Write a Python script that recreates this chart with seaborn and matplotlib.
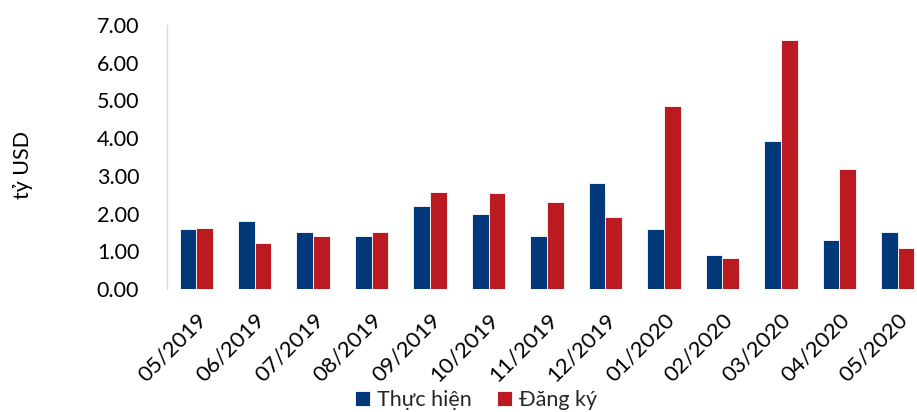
import matplotlib
matplotlib.use("Agg")
import matplotlib.pyplot as plt
import seaborn as sns
import pandas as pd

months = ["05/2019", "06/2019", "07/2019", "08/2019", "09/2019", "10/2019",
          "11/2019", "12/2019", "01/2020", "02/2020", "03/2020", "04/2020", "05/2020"]
thuc_hien = [1.60, 1.80, 1.50, 1.40, 2.20, 2.00, 1.40, 2.80, 1.60, 0.90, 3.92, 1.30, 1.50]
dang_ky = [1.62, 1.21, 1.40, 1.50, 2.56, 2.54, 2.30, 1.90, 4.84, 0.81, 6.60, 3.19, 1.10]
series_names = ["Thực hiện", "Đăng ký"]
y_ticks = [0, 1, 2, 3, 4, 5, 6, 7]

df = pd.DataFrame({
    "month": months * 2,
    "value": thuc_hien + dang_ky,
    "series": [series_names[0]] * len(months) + [series_names[1]] * len(months),
})

sns.set_style("white")
plt.rcParams["font.family"] = ["Lato", "DejaVu Sans"]
FS = 15.5

fig = plt.figure(figsize=(9.17, 4.12), dpi=100)
ax = fig.add_axes([167 / 917, 123 / 412, 760 / 917, 264 / 412])

sns.barplot(data=df, x="month", y="value", hue="series", order=months,
            hue_order=series_names, palette=["#00387A", "#BC1A21"], saturation=1,
            width=0.57, gap=0, edgecolor="white", linewidth=0.6, ax=ax)

ax.set_ylim(0, 7)
ax.set_yticks(y_ticks)
ax.set_yticklabels([f"{v:.2f}" for v in y_ticks], fontsize=FS, color="black")
ax.set_xlim(-0.5, len(months) - 0.5)
ax.set_xlabel("")
ax.set_ylabel("tỷ USD", fontsize=FS, color="black")
ax.yaxis.set_label_coords(-134 / 760, 0.47)

for lab in ax.get_xticklabels():
    lab.set_rotation(45)
    lab.set_ha("right")
    lab.set_va("top")
    lab.set_rotation_mode("anchor")
    lab.set_fontsize(FS + 0.5)
    lab.set_color("black")
ax.tick_params(axis="both", length=0)
ax.tick_params(axis="y", pad=20)
ax.tick_params(axis="x", pad=15)

sns.despine(ax=ax, top=True, right=True, bottom=True)
ax.spines["left"].set_color("#d9d9d9")
ax.spines["left"].set_linewidth(1)

handles, labels = ax.get_legend_handles_labels()
ax.legend_.remove()
fig.legend(handles, labels, loc="center", bbox_to_anchor=(476 / 917, 1 - 400 / 412),
           ncol=2, frameon=False, fontsize=FS, handlelength=0.7, handleheight=0.75,
           handletextpad=0.3, columnspacing=1.2, borderaxespad=0, borderpad=0)

fig.savefig("out.png", dpi=100)
